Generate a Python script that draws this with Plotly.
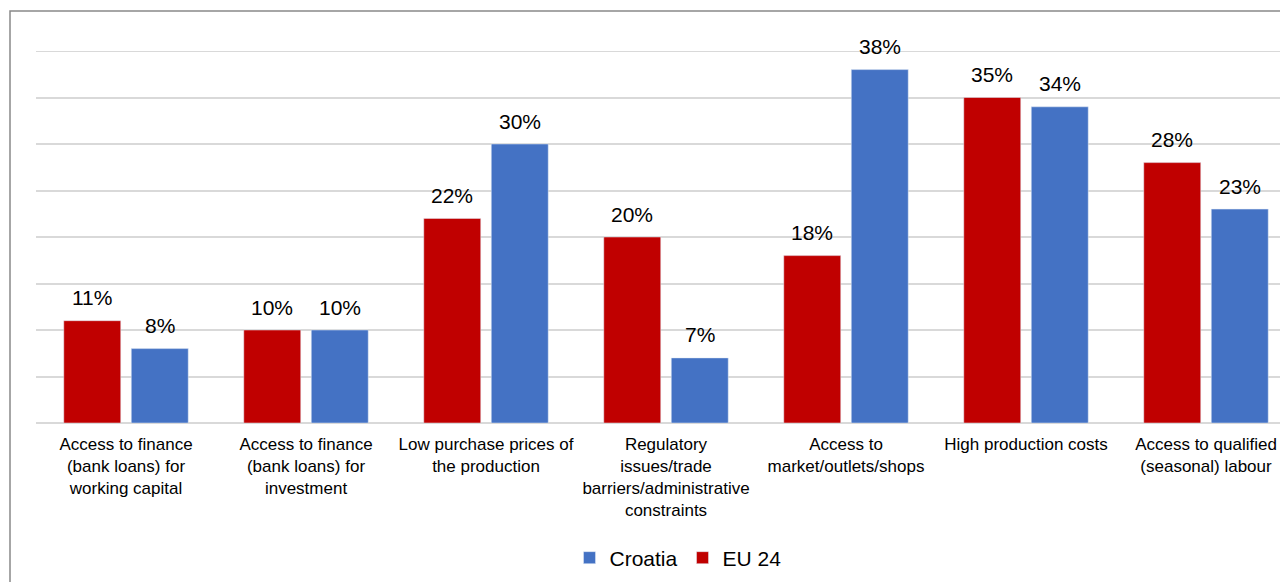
import plotly.graph_objects as go

categories = [
    "Access to finance<br>(bank loans) for<br>working capital",
    "Access to finance<br>(bank loans) for<br>investment",
    "Low purchase prices of<br>the production",
    "Regulatory<br>issues/trade<br>barriers/administrative<br>constraints",
    "Access to<br>market/outlets/shops",
    "High production costs",
    "Access to qualified<br>(seasonal) labour",
]
eu24 = [11, 10, 22, 20, 18, 35, 28]
croatia = [8, 10, 30, 7, 38, 34, 23]
y_max = 40

OFF = 8  # page body margin
W, H = 1288, 582
L, T, B = 36 - OFF, 51 - OFF, 423 - OFF
pw = W - L
ph = B - T
band = pw / 7.0
shift = band * (1 - 0.25) / 4  # half of slot width

fig = go.Figure()
fig.add_trace(go.Bar(x=categories, y=eu24, name="EU 24", marker_color="#C00000"))
fig.add_trace(go.Bar(x=categories, y=croatia, name="Croatia", marker_color="#4472C4"))

annotations = []
for vals, sx in ((eu24, -shift), (croatia, shift)):
    for c, v in zip(categories, vals):
        annotations.append(dict(
            x=c, y=v, xref="x", yref="y", text=f"{v}%", showarrow=False,
            xshift=sx, yshift=23, yanchor="middle", xanchor="center",
            font=dict(size=21, color="#000000")))

fig.update_layout(
    width=W, height=H,
    margin=dict(l=L, r=0, t=T, b=H - B),
    paper_bgcolor="white", plot_bgcolor="white",
    font=dict(family="Liberation Sans, Arial, sans-serif", color="#000000"),
    barmode="group", bargap=0.25, bargroupgap=0.156,
    showlegend=True,
    legend=dict(orientation="h", traceorder="reversed",
                x=(678 - OFF - L) / pw, xanchor="center",
                y=(B - (558 - OFF)) / ph, yanchor="middle",
                font=dict(size=21), itemwidth=30),
    xaxis=dict(range=[-0.5, 6.5], showgrid=False,
               tickfont=dict(size=17, color="#000000"), ticks="",
               ticklabelstandoff=9, showline=False),
    yaxis=dict(range=[0, y_max], dtick=5, showticklabels=False,
               gridcolor="#d9d9d9", gridwidth=2,
               zeroline=True, zerolinecolor="#d9d9d9", zerolinewidth=2),
    annotations=annotations,
    shapes=[
        dict(type="line", xref="paper", x0=0, x1=1, yref="y", y0=y_max, y1=y_max,
             line=dict(color="#d9d9d9", width=2), layer="below"),
        dict(type="path", xref="paper", yref="paper",
             path=f"M {(2 - L) / pw},-0.6 L {(2 - L) / pw},{(B - 3) / ph} L 1.05,{(B - 3) / ph}",
             line=dict(color="#898989", width=1.5)),
    ],
)

fig.write_html("out.html")
